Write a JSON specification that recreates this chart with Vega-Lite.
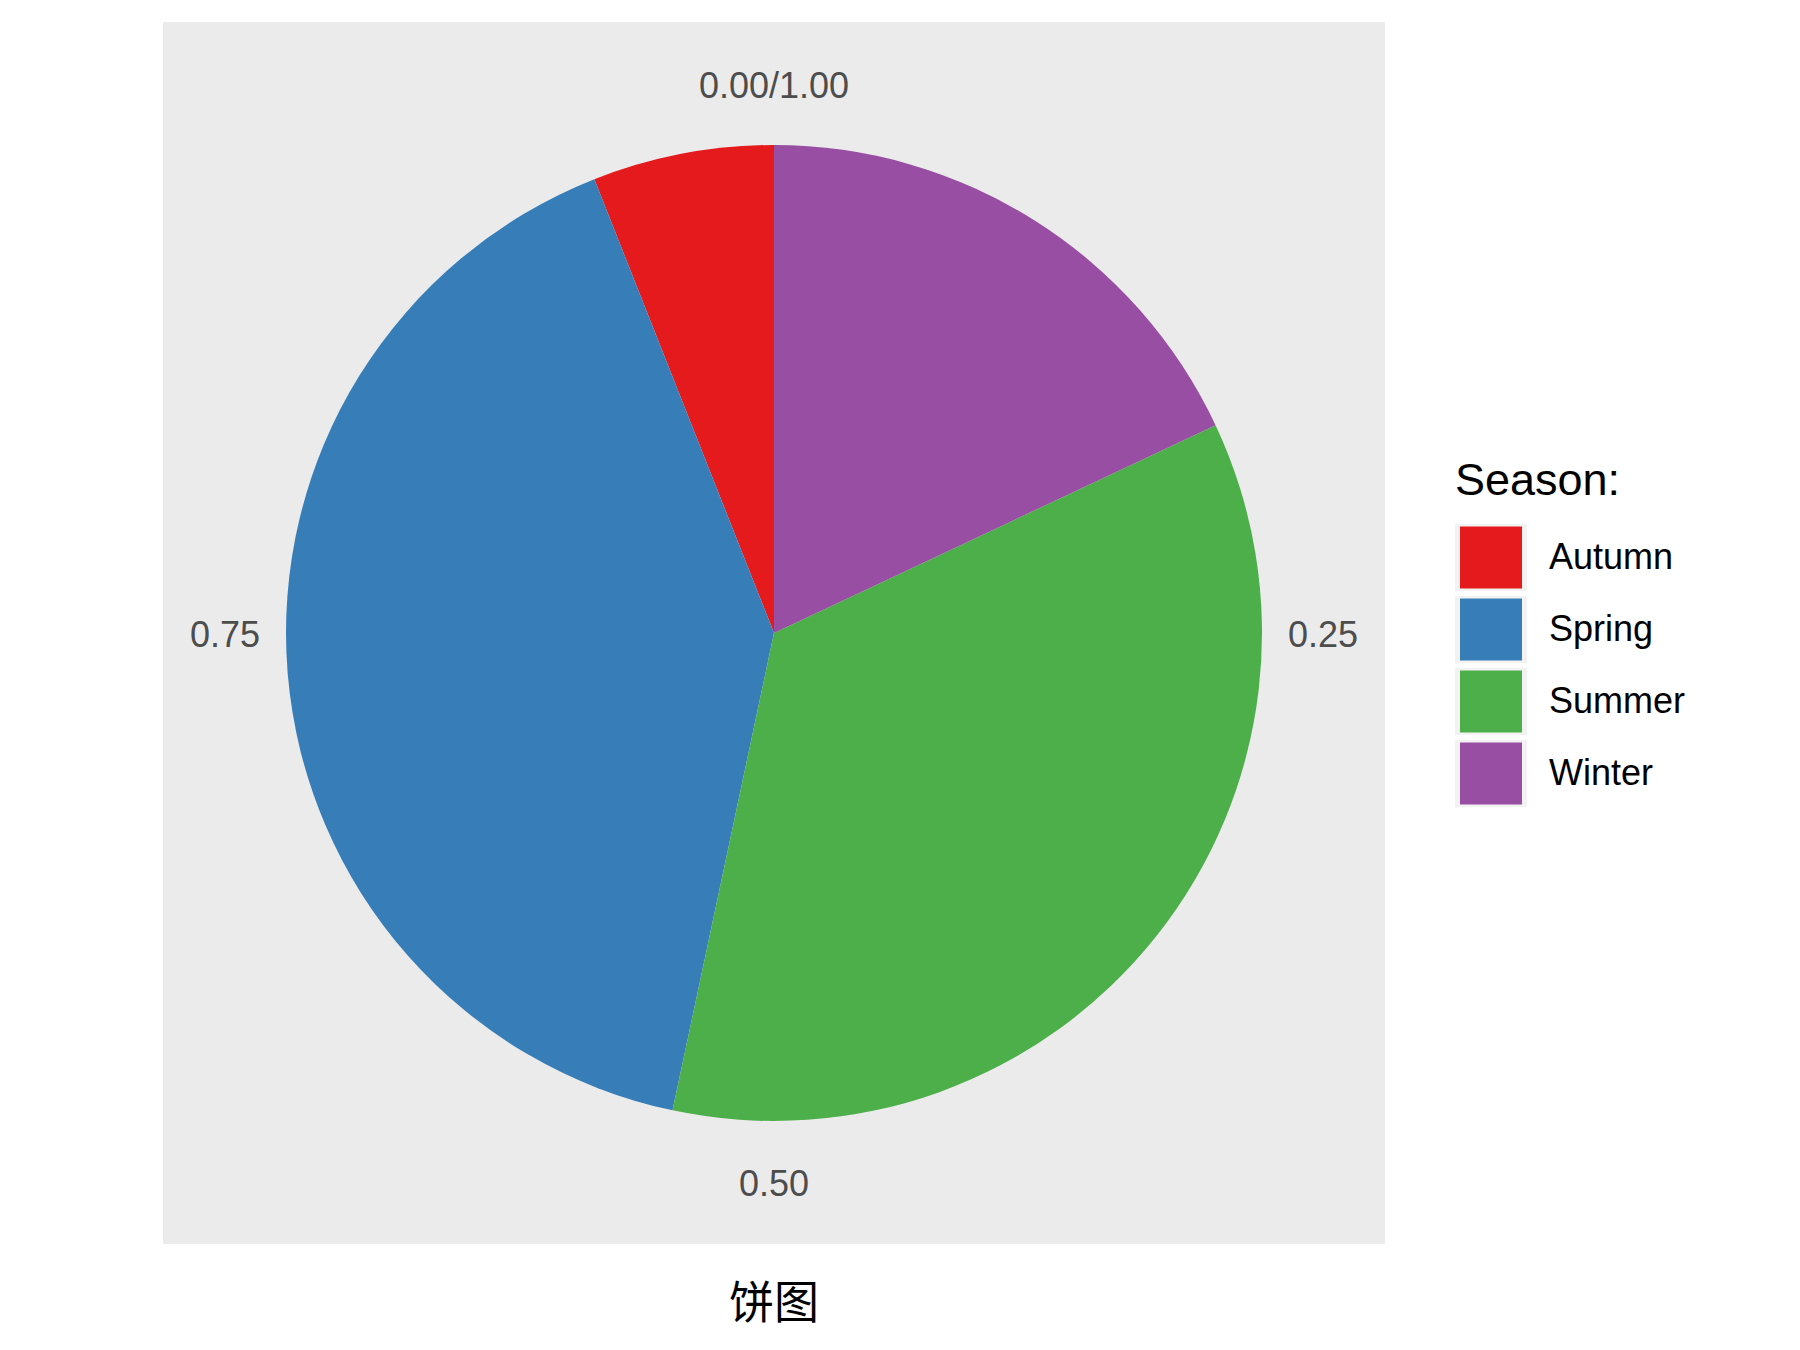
{
  "$schema": "https://vega.github.io/schema/vega-lite/v6.json",
  "width": 1222,
  "height": 1222,
  "autosize": {"type": "none"},
  "padding": {"left": 163, "top": 22, "right": 415, "bottom": 106},
  "background": "white",
  "view": {"fill": "#EBEBEB", "stroke": null},
  "config": {
    "view": {"fill": "#EBEBEB", "stroke": null},
    "font": "Liberation Sans"
  },
  "title": {
    "text": "饼图",
    "orient": "bottom",
    "anchor": "middle",
    "frame": "group",
    "fontSize": 45,
    "fontWeight": "normal",
    "font": "Noto Sans CJK SC",
    "color": "#000000",
    "offset": 39
  },
  "resolve": {"scale": {"theta": "independent"}},
  "layer": [
    {
      "data": {
        "values": [
          {"season": "Autumn", "count": 9},
          {"season": "Spring", "count": 61},
          {"season": "Summer", "count": 53},
          {"season": "Winter", "count": 27}
        ]
      },
      "mark": {"type": "arc", "outerRadius": 488},
      "encoding": {
        "theta": {"field": "count", "type": "quantitative", "stack": true, "scale": {"domain": [0, 150]}},
        "order": {"field": "season", "type": "nominal", "sort": "descending"},
        "color": {
          "field": "season",
          "type": "nominal",
          "scale": {
            "domain": ["Autumn", "Spring", "Summer", "Winter"],
            "range": ["#E41A1C", "#377EB8", "#4DAF4A", "#984EA3"]
          },
          "legend": {
            "title": "Season:",
            "orient": "none",
            "legendX": 1292,
            "legendY": 437,
            "titleFontSize": 45,
            "titleFontWeight": "normal",
            "titleColor": "#000000",
            "titleFont": "Liberation Sans",
            "titlePadding": 20,
            "labelFontSize": 36,
            "labelColor": "#000000",
            "labelFont": "Liberation Sans",
            "labelOffset": 22,
            "symbolType": "square",
            "symbolSize": 4489,
            "symbolStrokeColor": "#F2F2F2",
            "symbolStrokeWidth": 5,
            "symbolOpacity": 1,
            "clipHeight": 67,
            "rowPadding": 5
          }
        }
      }
    },
    {
      "data": {
        "values": [
          {"label": "0.00/1.00", "pos": 0},
          {"label": "0.25", "pos": 0.25},
          {"label": "0.50", "pos": 0.5},
          {"label": "0.75", "pos": 0.75}
        ]
      },
      "mark": {"type": "text", "fontSize": 36, "color": "#4D4D4D", "align": "center", "baseline": "middle", "dy": 3, "font": "Liberation Sans"},
      "encoding": {
        "theta": {"field": "pos", "type": "quantitative", "stack": null, "scale": {"domain": [0, 1]}},
        "radius": {"value": 549},
        "text": {"field": "label", "type": "nominal"}
      }
    }
  ]
}
